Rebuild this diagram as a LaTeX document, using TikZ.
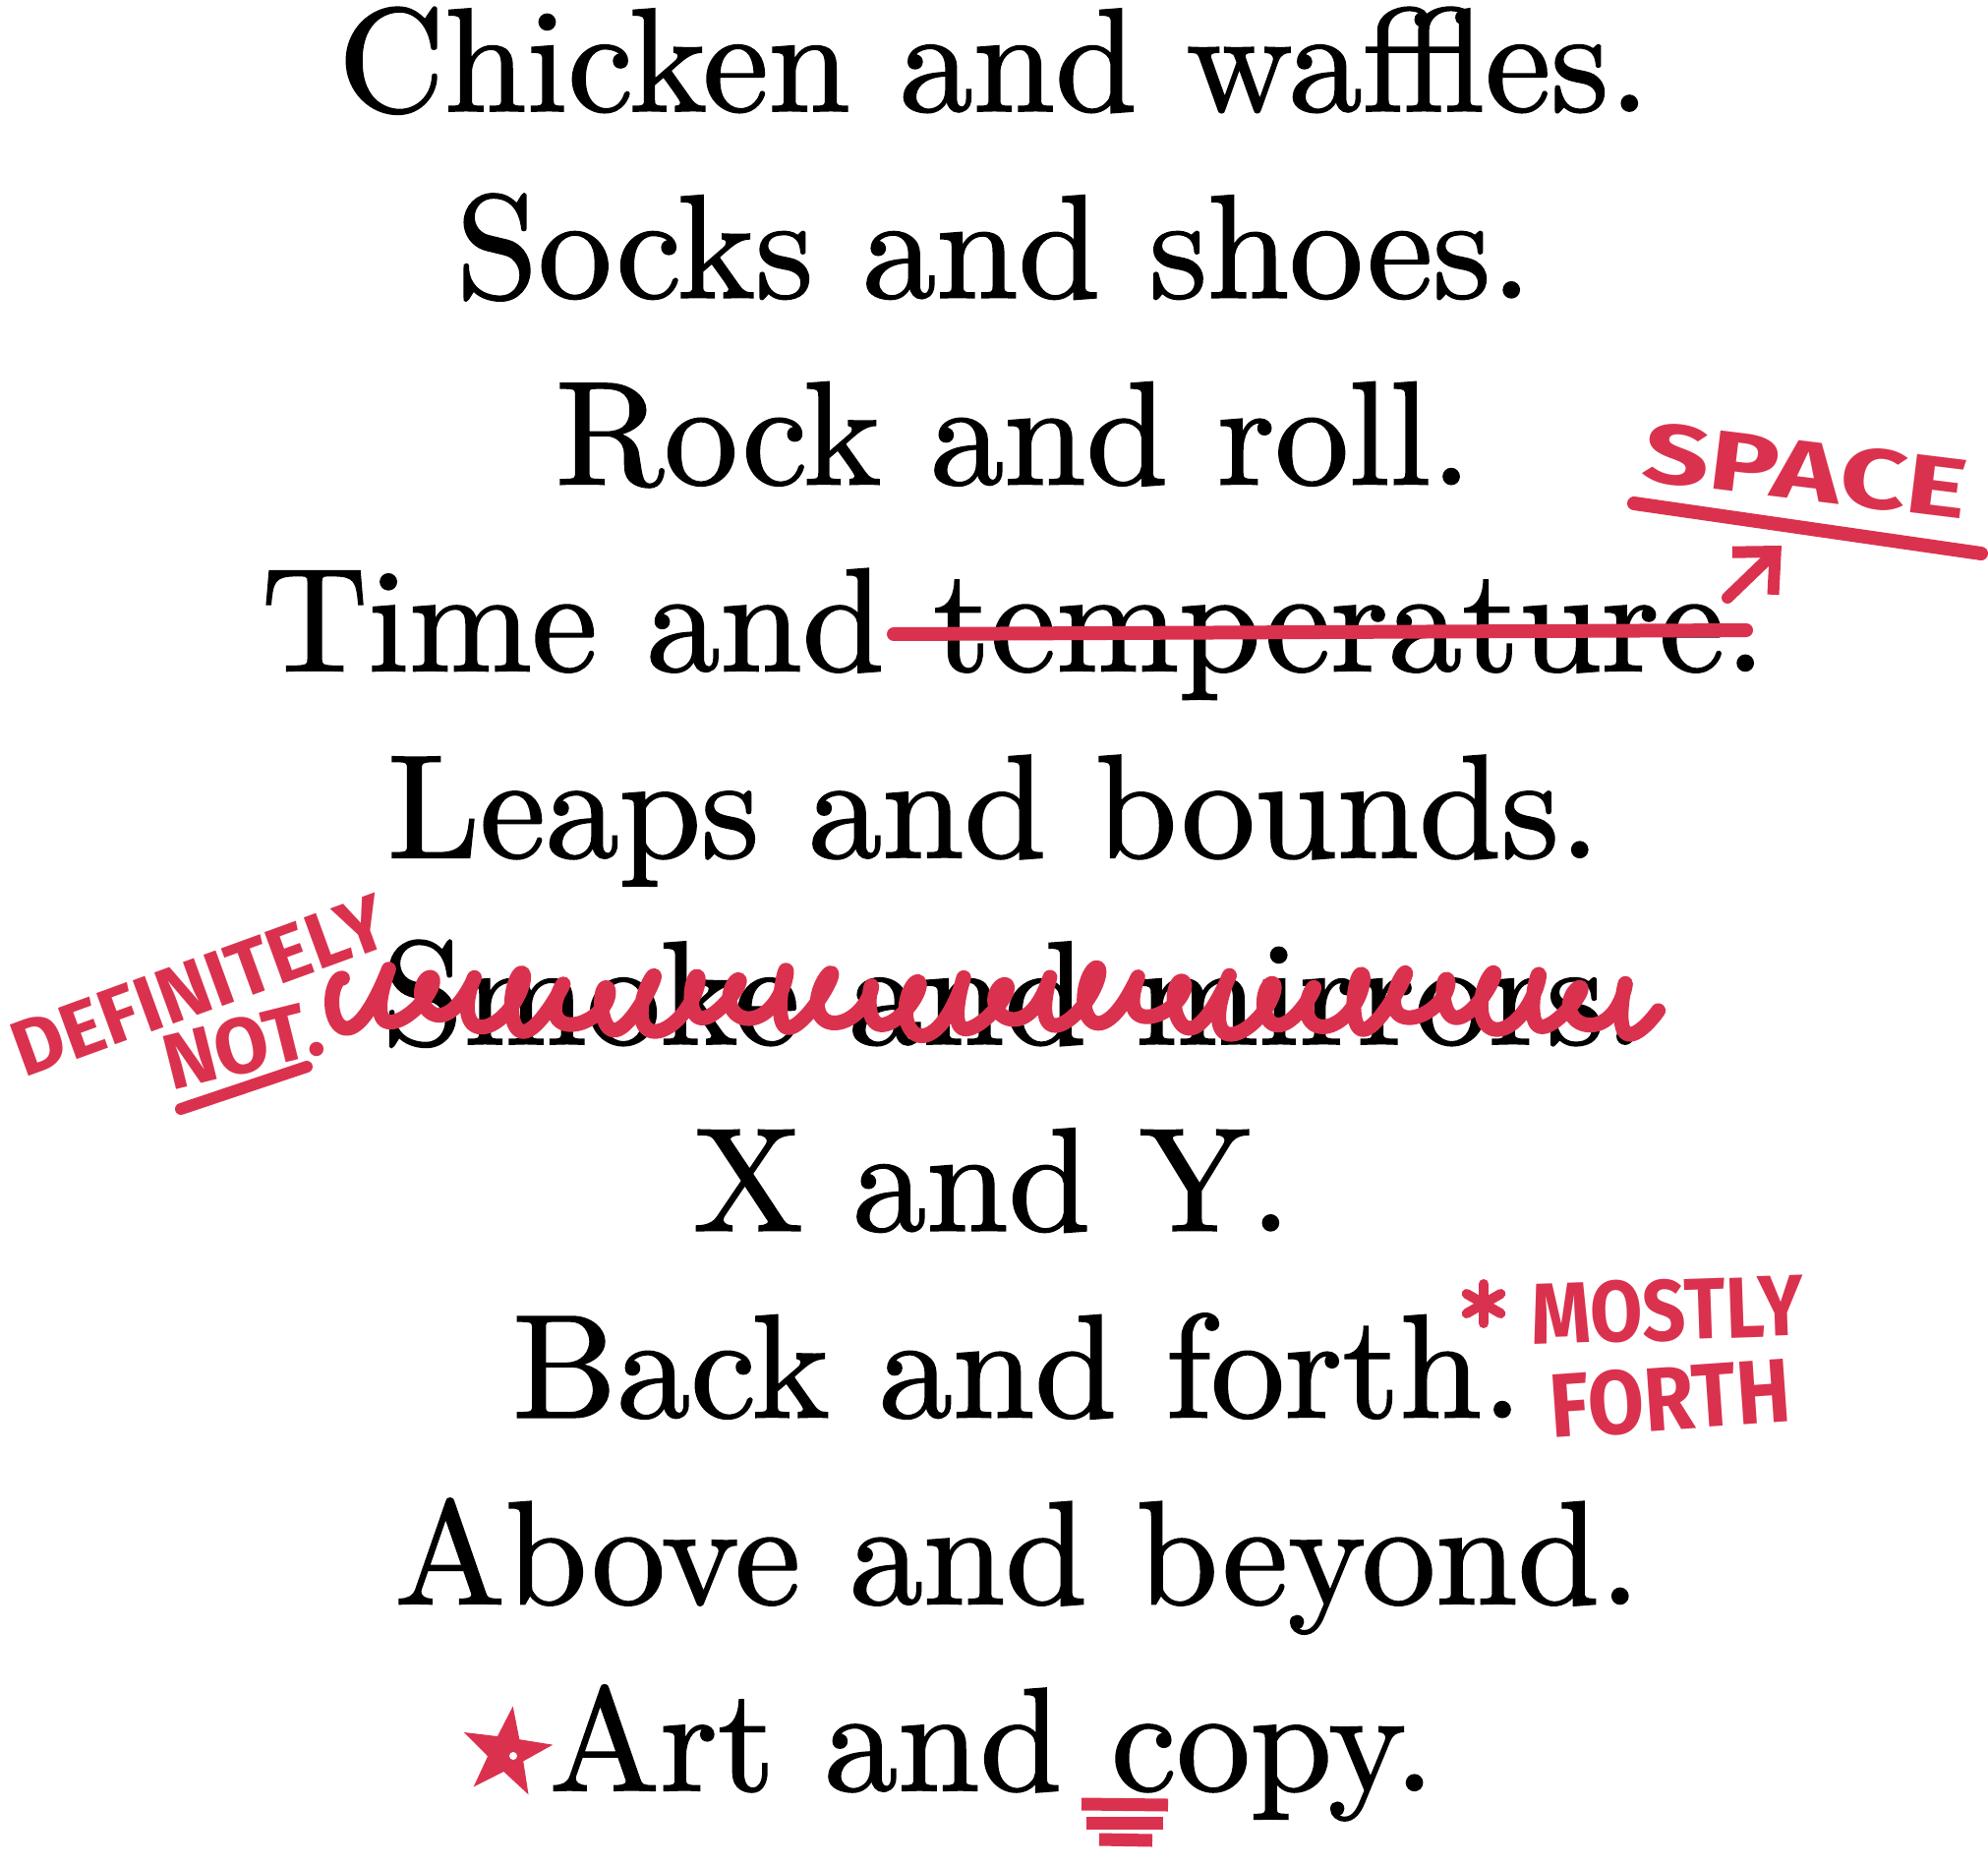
\documentclass[tikz,border=0pt]{standalone}
\usepackage{fontspec}
\newfontfamily\phrasefont{lmroman10-regular.otf}[FakeBold=1.2]
\newfontfamily\handfont{Fira Sans}
\usetikzlibrary{positioning,shapes.geometric,arrows.meta}
\definecolor{pen}{RGB}{218,50,78}

\begin{document}
\begin{tikzpicture}[x=0.5pt, y=-0.5pt, node distance={94.9pt},
    phrase/.style={font=\phrasefont\fontsize{75}{90}\selectfont, inner sep=0pt, text height=50pt, text depth=16pt},
    scrawl/.style={font=\handfont\bfseries\fontsize{40}{40}\selectfont, text=pen, inner sep=0pt, anchor=base west},
    marker/.style={draw=pen, line width=7pt, line cap=round, line join=round}]
    \useasboundingbox (0,0) rectangle (2022,1898);
    % the phrases
    \node[phrase] (chicken) at (1011,79) {Chicken and waffles.};
    \node[phrase] (socks) [below of=chicken] {Socks and shoes.};
    \node[phrase] (rock) [below of=socks, xshift=10pt] {Rock and roll.};
    \node[phrase] (time) [below of=rock] {Time and temperature.};
    \node[phrase] (leaps) [below of=time, xshift=-10pt] {Leaps and bounds.};
    \node[phrase] (smoke) [below of=leaps, xshift=10pt] {Smoke and mirrors.};
    \node[phrase] (xy) [below of=smoke, xshift=-11pt] {X and Y.};
    \node[phrase] (back) [below of=xy, xshift=13pt] {Back and forth.};
    \node[phrase] (above) [below of=back] {Above and beyond.};
    \node[phrase] (art) [below of=above, xshift=-13pt] {Art and copy.};
    % space
    \draw[marker] (909,645) -- (1776,641);
    \node[scrawl, rotate=-7, xscale=1.38, font=\handfont\bfseries\fontsize{43}{43}\selectfont] (space) at (1668,488) {SPACE};
    \draw[marker] (1662,512) -- (2015,563);
    \coordinate (foot) at (1757,608);
    \coordinate (tip) at (1812,555);
    \draw[marker, line width=6pt, -{Straight Barb[length=16pt, width=30pt]}] (foot) -- (tip);
    % definitely not
    \draw[marker, line width=7.5pt] plot[domain=0:10700, samples=1600]
        ({340 + \x/360*45 - (11+4*cos(0.53*\x))*sin(\x) + 0.35*(24+6*sin(0.31*\x))*cos(\x)},
         {1019 - (24+6*sin(0.31*\x))*cos(\x) - 5*sin(0.13*\x)});
    \node[scrawl, rotate=20] (definitely) at (24,1097) {DEFINITELY};
    \node[scrawl, rotate=14] (not) at (174,1110) {NOT.};
    \draw[marker, line width=6pt] (184,1128) -- (312,1085);
    % mostly forth
    \coordinate (ast) at (1509,1326);
    \foreach \a in {90,30,-30}
        \draw[marker, line width=5pt] (ast) +(\a:20) -- +(\a+180:20);
    \node[scrawl, rotate=2, xscale=0.88, font=\handfont\bfseries\fontsize{44}{44}\selectfont] (mostly) at (1558,1368) {MOSTLY};
    \node[scrawl, rotate=4, xscale=0.9, font=\handfont\bfseries\fontsize{46}{46}\selectfont] (forth) at (1578,1463) {FORTH};
    % star and underline
    \node[star, star points=5, star point ratio=2.5, fill=pen, minimum size=48pt, inner sep=0pt, rotate=-8] (star) at (515,1783) {};
    \fill[white] (522,1786) circle (4);
    \draw[marker, line width=6.5pt, line cap=butt] (1100,1835) -- (1188,1836);
    \draw[marker, line width=6.5pt, line cap=butt] (1105,1854) -- (1183,1854);
    \draw[marker, line width=6.5pt, line cap=butt] (1118,1871) -- (1172,1872);
\end{tikzpicture}
\end{document}
